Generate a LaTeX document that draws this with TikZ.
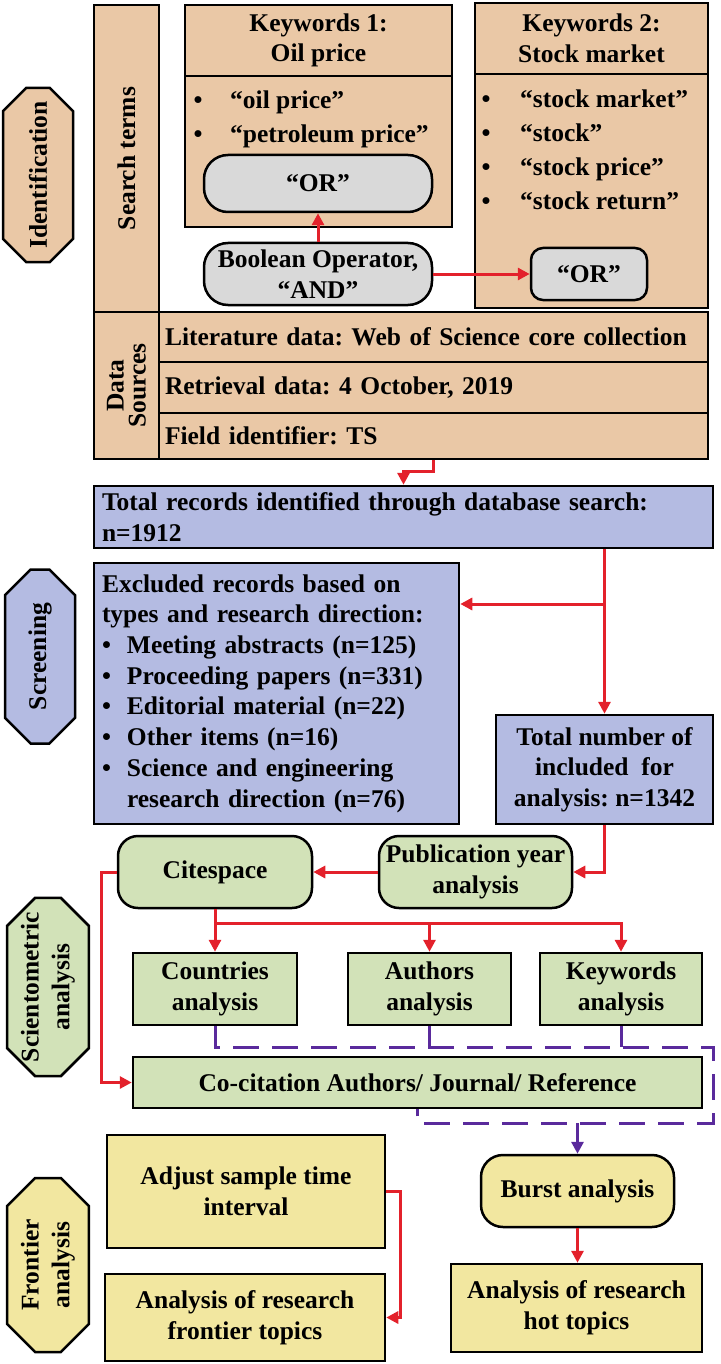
\documentclass[tikz,border=0pt]{standalone}
\usepackage{fontspec}
\setmainfont{Liberation Serif}
\usetikzlibrary{arrows.meta,shapes.misc}
\definecolor{pessego}{HTML}{EAC8A6}
\definecolor{lilas}{HTML}{B4BBE2}
\definecolor{verde}{HTML}{D2E2B8}
\definecolor{amarelo}{HTML}{F2E7A0}
\definecolor{cinza}{HTML}{D9D9D9}
\definecolor{vermelho}{HTML}{E3212B}
\definecolor{roxo}{HTML}{5A2A9C}
\newcommand{\bala}[1]{\makebox[#1][l]{\textbullet}}
\tikzstyle{caixa}=[draw=black, line width=2.5pt, inner sep=0pt, align=center]
\tikzstyle{fase}=[caixa, chamfered rectangle, chamfered rectangle xsep=14pt, chamfered rectangle ysep=14pt, rotate=90, minimum width=174pt, minimum height=70pt]
\tikzstyle{botao}=[caixa, fill=cinza, rounded corners=24pt]
\tikzstyle{linha}=[draw=black, line width=2.5pt, fill=pessego, inner sep=0pt, minimum width=549pt, text width=537pt, align=left]
\tikzstyle{lista}=[anchor=north west, inner sep=0pt, align=left, font=\bfseries\fontsize{25.5pt}{34pt}\selectfont]
\tikzstyle{seta}=[vermelho, line width=3pt, -{Triangle[length=12pt,width=12pt]}]
\tikzstyle{tracejado}=[roxo, line width=3pt, dash pattern=on 26pt off 13pt]
\frenchspacing

\begin{document}
\begin{tikzpicture}[x=1pt, y=-1pt, every node/.style={font=\bfseries\fontsize{25.5pt}{30.7pt}\selectfont}]
			\useasboundingbox (0,0) rectangle (720,1364);
			% identification
			\node[fase, fill=pessego] (id) at (38,175) {Identification};
			\node[caixa, fill=pessego, rotate=90, minimum width=307pt, minimum height=65pt] (st) at (126.5,158.5) {Search terms};
			\node[caixa, fill=pessego, minimum width=267pt, minimum height=71pt] (kw1) at (318.5,40.5) {Keywords 1:\\Oil price};
			\node[caixa, fill=pessego, minimum width=267pt, minimum height=151pt] (kw1b) at (318.5,151.5) {};
			\node[lista] (kw1l) at (193.5,90.5) {\bala{36.5pt}“oil price”\\\bala{36.5pt}“petroleum price”};
			\node[botao, minimum width=228pt, minimum height=57pt] (or1) at (318,183.5) {“OR”};
			\node[botao, minimum width=228pt, minimum height=62pt] (bool) at (318,274) {Boolean Operator,\\“AND”};
			\node[caixa, fill=pessego, minimum width=233pt, minimum height=71pt] (kw2) at (591.5,38.5) {Keywords 2:\\Stock market};
			\node[caixa, fill=pessego, minimum width=233pt, minimum height=234pt] (kw2b) at (591.5,191) {};
			\node[lista] (kw2l) at (481.5,89.5) {\bala{38.5pt}“stock market”\\\bala{38.5pt}“stock”\\\bala{38.5pt}“stock price”\\\bala{38.5pt}“stock return”};
			\node[botao, rounded corners=12pt, minimum width=116pt, minimum height=52pt] (or2) at (589,274) {“OR”};
			\node[caixa, fill=pessego, rotate=90, minimum width=147pt, minimum height=65pt, font=\bfseries\fontsize{25.5pt}{22pt}\selectfont] (ds) at (126.5,385.5) {Data\\Sources};
			\node[linha, minimum height=50pt] (ds1) at (433.5,337) {Literature data: Web of Science core collection};
			\node[linha, minimum height=51pt] (ds2) at (433.5,387.5) {Retrieval data: 4 October, 2019};
			\node[linha, minimum height=46pt] (ds3) at (433.5,436) {Field identifier: TS};
			% screening
			\node[caixa, fill=lilas, minimum width=619pt, minimum height=62pt, text width=603pt, align=left] (tot) at (403.5,517) {Total records identified through database search:\\n=1912};
			\node[fase, fill=lilas] (scr) at (40,656.5) {Screening};
			\node[caixa, fill=lilas, minimum width=365pt, minimum height=261pt, text width=349pt, align=left] (excl) at (276.5,693.5) {Excluded records based on\\types and research direction:\\\bala{25pt}Meeting abstracts (n=125)\\\bala{25pt}Proceeding papers (n=331)\\\bala{25pt}Editorial material (n=22)\\\bala{25pt}Other items (n=16)\\\bala{25pt}Science and engineering\\\hspace*{25pt}research direction (n=76)};
			\node[caixa, fill=lilas, minimum width=217pt, minimum height=109pt] (incl) at (604.5,769.5) {Total number of\\included~ for\\analysis: n=1342};
			% scientometric analysis
			\node[caixa, fill=verde, rounded corners=20pt, minimum width=194pt, minimum height=72pt] (cite) at (215,872) {Citespace};
			\node[caixa, fill=verde, rounded corners=20pt, minimum width=193pt, minimum height=72pt] (pub) at (475.5,872) {Publication year\\analysis};
			\node[fase, fill=verde] (sci) at (48,987) {Scientometric\\analysis};
			\node[caixa, fill=verde, minimum width=164pt, minimum height=72pt] (ctry) at (215,989) {Countries\\analysis};
			\node[caixa, fill=verde, minimum width=163pt, minimum height=72pt] (auth) at (429.5,989) {Authors\\analysis};
			\node[caixa, fill=verde, minimum width=162pt, minimum height=72pt] (kwan) at (621,989) {Keywords\\analysis};
			\node[caixa, fill=verde, minimum width=569pt, minimum height=51pt] (cocit) at (417.5,1082.5) {Co-citation Authors/ Journal/ Reference};
			% frontier analysis
			\node[fase, fill=amarelo] (fro) at (48,1265) {Frontier\\analysis};
			\node[caixa, fill=amarelo, minimum width=278pt, minimum height=113pt] (adj) at (246,1191.5) {Adjust sample time\\interval};
			\node[caixa, fill=amarelo, minimum width=280pt, minimum height=87pt] (front) at (245,1317.5) {Analysis of research\\frontier topics};
			\node[caixa, fill=amarelo, rounded corners=22pt, minimum width=193pt, minimum height=72pt] (burst) at (577.5,1191) {Burst analysis};
			\node[caixa, fill=amarelo, minimum width=251pt, minimum height=88pt] (hot) at (576.5,1308) {Analysis of research\\hot topics};
			\coordinate (div) at (604.5,604);
			\coordinate (ramo) at (215,923);
			\coordinate (dtr) at (713,1047);
			\coordinate (dbr) at (713,1123);
			\draw[seta] (bool.north) -- (or1.south);
			\draw[seta] (bool.east) -- (or2.west);
			\draw[seta] (ds3.south) -- ++(0,11) -| (tot.north);
			\draw[seta] (tot.south -| incl.north) -- (incl.north);
			\draw[seta] (div) -- (div -| excl.east);
			\draw[seta] (incl.south) |- (pub.east);
			\draw[seta] (pub.west) -- (cite.east);
			\draw[seta] (cite.west) -- ++(-15,0) |- (cocit.west);
			\draw[seta] (cite.south) -- (ctry.north);
			\draw[seta] (ramo) -| (kwan.north);
			\draw[seta] (ramo -| auth.north) -- (auth.north);
			\draw[tracejado] (ctry.south) |- (dtr) -- (dbr) -| (cocit.south);
			\path[draw=roxo, line width=3pt]
				(auth.south) -- (auth.south |- dtr)
				(kwan.south) -- (kwan.south |- dtr);
			\draw[roxo, line width=3pt, -{Triangle[length=12pt,width=12pt]}] (dbr -| burst.north) -- (burst.north);
			\draw[seta] (burst.south) -- (burst.south |- hot.north);
			\draw[seta] (adj.east) -- ++(14,0) |- (front.east);
		\end{tikzpicture}
\end{document}
